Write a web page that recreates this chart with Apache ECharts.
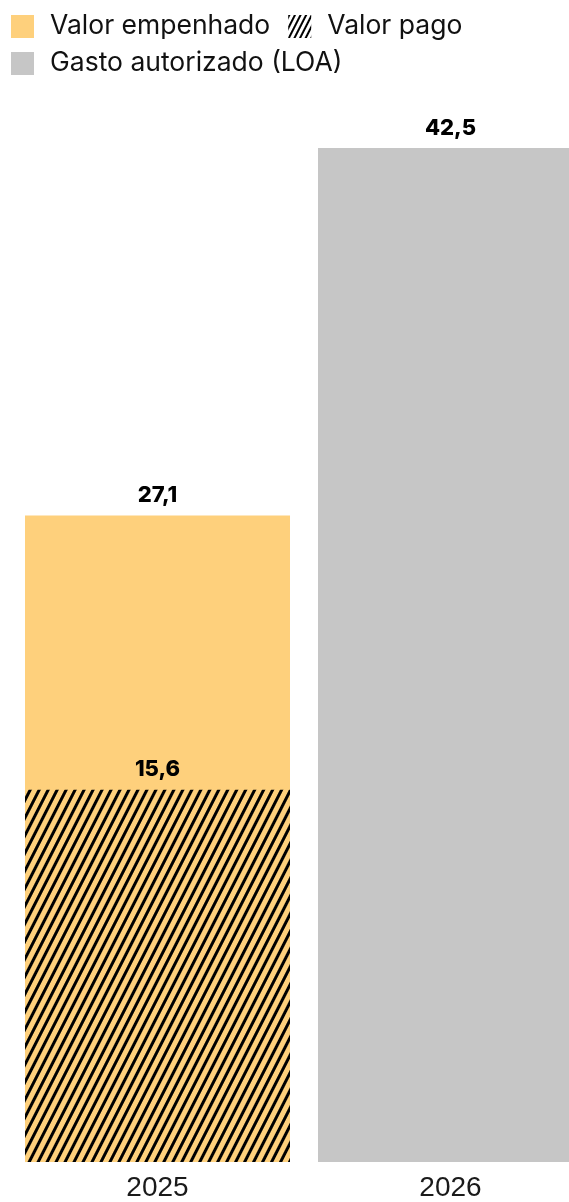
<!DOCTYPE html>
<html>
<head>
<meta charset="utf-8">
<script src="https://cdn.jsdelivr.net/npm/echarts@6/dist/echarts.min.js"></script>
<style>
html,body{margin:0;padding:0;background:#fff;}
#chart{width:569px;height:1202px;}
</style>
</head>
<body>
<div id="chart"></div>
<script>
const categories = ['2025', '2026'];
const valorEmpenhado = [27.1, '-'];
const valorPago = [15.6, '-'];
const gastoAutorizado = ['-', 42.5];
const seriesNames = ['Valor empenhado', 'Valor pago', 'Gasto autorizado (LOA)'];

const YELLOW = '#FED07C';
const GRAY = '#C6C6C6';
const fmt = p => (typeof p.value === 'number') ? p.value.toFixed(1).replace('.', ',') : '';
const labelStyle = {
  show: true, position: 'top', distance: 9,
  fontFamily: 'Inter', fontWeight: 800, fontSize: 22, color: '#000',
  formatter: fmt
};
const legendText = { fontFamily: 'Inter', fontSize: 26.5, color: '#111', padding: [0, 0, 0, 11] };

const chart = echarts.init(document.getElementById('chart'), null, { renderer: 'canvas' });
chart.setOption({
  animation: false,
  backgroundColor: '#fff',
  legend: [
    { data: [seriesNames[0], { name: seriesNames[1], itemStyle: { color: '#fff', decal: { symbol: 'rect', color: '#000', dashArrayX: [1, 0], dashArrayY: [1.5, 2.5], rotation: -Math.PI * 0.35 } } }],
      left: 11, top: 13, padding: 0, icon: 'rect', itemWidth: 23, itemHeight: 23, itemGap: 18, textStyle: legendText, selectedMode: false },
    { data: [seriesNames[2]], left: 11, top: 50, padding: 0, icon: 'rect', itemWidth: 23, itemHeight: 23, textStyle: legendText, selectedMode: false }
  ],
  grid: { left: 11, width: 586, top: 148, bottom: 40, containLabel: false, outerBoundsMode: 'none' },
  xAxis: {
    type: 'category', data: categories,
    axisLine: { show: false }, axisTick: { show: false },
    axisLabel: { margin: 12, fontFamily: 'Liberation Sans', fontSize: 28, color: '#1a1a1a' }
  },
  yAxis: { type: 'value', min: 0, max: 42.5, show: false, splitLine: { show: false } },
  series: [
    { name: seriesNames[0], type: 'bar', data: valorEmpenhado, barWidth: 265, barGap: '-100%',
      itemStyle: { color: YELLOW }, label: labelStyle },
    { name: seriesNames[1], type: 'bar', data: valorPago, barWidth: 265, barGap: '-100%',
      itemStyle: { color: 'rgba(0,0,0,0)', decal: { symbol: 'rect', color: '#000', dashArrayX: [1, 0], dashArrayY: [3, 5], rotation: -Math.PI * 0.35 } },
      label: labelStyle },
    { name: seriesNames[2], type: 'bar', data: gastoAutorizado, barWidth: 265, barGap: '-100%',
      itemStyle: { color: GRAY }, label: labelStyle }
  ]
});
</script>
</body>
</html>
